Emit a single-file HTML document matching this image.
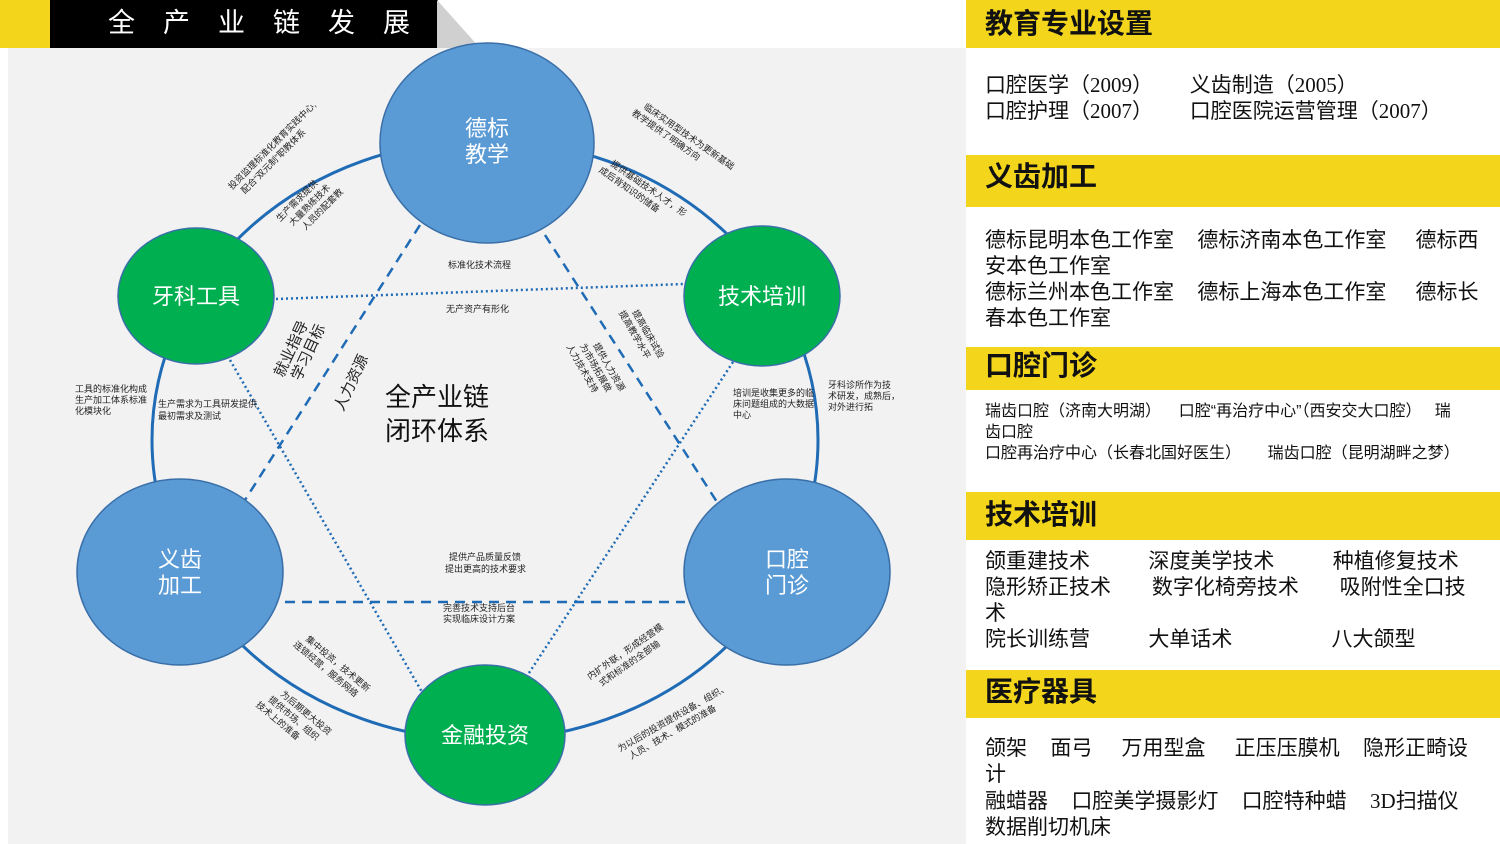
<!DOCTYPE html>
<html><head><meta charset="utf-8"><style>
body{margin:0;width:1500px;height:844px;background:#fff;position:relative;overflow:hidden;font-family:"Liberation Sans","Noto Sans CJK SC",sans-serif;}
.h{position:absolute;left:966px;width:534px;background:#f3d61c;font-weight:bold;font-size:28px;padding-left:19px;box-sizing:border-box;color:#111;}
.t{position:absolute;left:985px;font-size:21px;color:#111;line-height:26px;white-space:pre;}
.s{font-family:"Liberation Serif","Noto Sans CJK SC",serif;}
</style></head><body>
<div style="position:absolute;left:8px;top:48px;width:958px;height:796px;background:#f2f2f2"></div>
<div style="position:absolute;left:0;top:0;width:52px;height:48px;background:#f3d61c"></div>
<div style="position:absolute;left:50px;top:0;width:388px;height:48px;background:#000;color:#fff;font-size:27px;letter-spacing:28px;text-indent:58px;line-height:46px">全产业链发展</div>
<svg style="position:absolute;left:0;top:0" width="966" height="844">
<polygon points="437,0 437,48 480,48" fill="#d0d0d0"/>
<ellipse cx="485" cy="440" rx="333" ry="300" fill="none" stroke="#1f6bb5" stroke-width="3"/>
<g stroke="#1f6bb5" stroke-width="2.5" fill="none">
<line x1="420" y1="225" x2="245" y2="500" stroke-dasharray="10,7"/>
<line x1="545" y1="235" x2="717" y2="502" stroke-dasharray="10,7"/>
<line x1="285" y1="602" x2="685" y2="602" stroke-dasharray="10,7"/>
<line x1="276" y1="299" x2="684" y2="284" stroke-dasharray="2,3"/>
<line x1="230" y1="360" x2="422" y2="692" stroke-dasharray="2,3"/>
<line x1="733" y1="362" x2="527" y2="676" stroke-dasharray="2,3"/>
</g>
<g stroke="#3a6fa8" stroke-width="1.5">
<ellipse cx="487" cy="143" rx="107" ry="100" fill="#5b9bd5"/>
<ellipse cx="180" cy="572" rx="103" ry="93" fill="#5b9bd5"/>
<ellipse cx="787" cy="572" rx="103" ry="93" fill="#5b9bd5"/>
<ellipse cx="196" cy="296" rx="78" ry="68" fill="#00b050"/>
<ellipse cx="762" cy="296" rx="78" ry="70" fill="#00b050"/>
<ellipse cx="485" cy="735" rx="80" ry="70" fill="#00b050"/>
</g>
<g fill="#fff" font-size="22" text-anchor="middle">
<text x="487" y="136">德标</text><text x="487" y="162">教学</text>
<text x="180" y="567">义齿</text><text x="180" y="593">加工</text>
<text x="787" y="567">口腔</text><text x="787" y="593">门诊</text>
<text x="196" y="304">牙科工具</text><text x="762" y="304">技术培训</text><text x="485" y="743">金融投资</text>
</g>
<g font-size="26" fill="#111"><text x="385" y="406">全产业链</text><text x="385" y="440">闭环体系</text></g>
<g font-size="9" fill="#222">
<text x="448" y="268">标准化技术流程</text>
<text x="446" y="312">无产资产有形化</text>
<text x="449" y="560">提供产品质量反馈</text><text x="445" y="572">提出更高的技术要求</text>
<text x="443" y="611">完善技术支持后台</text><text x="443" y="622">实现临床设计方案</text>
<text x="75" y="392">工具的标准化构成</text><text x="75" y="403">生产加工体系标准</text><text x="75" y="414">化模块化</text>
<text x="158" y="407">生产需求为工具研发提供</text><text x="158" y="419">最初需求及测试</text>
<text x="733" y="396">培训是收集更多的临</text><text x="733" y="407">床问题组成的大数据</text><text x="733" y="418">中心</text>
<text x="828" y="388">牙科诊所作为技</text><text x="828" y="399">术研发，成熟后，</text><text x="828" y="410">对外进行拓</text>
<g transform="translate(232,190) rotate(-45)"><text x="0" y="0">投资监理标准化教育实践中心,</text><text x="6" y="12">配合“双元制”职教体系</text></g>
<g transform="translate(280,222) rotate(-45)"><text>生产需求提供</text><text x="6" y="12">大量熟练技术</text><text x="12" y="24">人员的配套教</text></g>
<g transform="translate(643,108) rotate(35)"><text>临床实用型技术为更新基础</text><text x="-6" y="12">教学提供了明确方向</text></g>
<g transform="translate(610,165) rotate(35)"><text>提供基础技术人才，形</text><text x="-6" y="12">成后背知识的储备</text></g>
<g transform="translate(632,312) rotate(60)"><text>提高临床试验</text><text x="-6" y="12">提高教学水平</text></g>
<g transform="translate(593,345) rotate(60)"><text>提供人力资源</text><text x="-6" y="12">为市场拓展做</text><text x="-12" y="24">人力技术支持</text></g>
<g transform="translate(305,640) rotate(40)"><text>集中投资，技术更新</text><text x="-6" y="12">连锁经营，服务网络</text></g>
<g transform="translate(280,695) rotate(40)"><text>为后期更大投资</text><text x="-6" y="12">提供市场、组织</text><text x="-12" y="24">技术上的准备</text></g>
<g transform="translate(590,680) rotate(-35)"><text>内扩外联，形成经营模</text><text x="6" y="12">式和标准的全部输</text></g>
<g transform="translate(620,752) rotate(-30)"><text>为以后的投资提供设备、组织、</text><text x="6" y="12">人员、技术、模式的准备</text></g>
</g>
<g font-size="15" fill="#222">
<g transform="translate(283,378) rotate(-65)"><text>就业指导</text><text x="4" y="17">学习目标</text></g>
<g transform="translate(343,412) rotate(-65)"><text>人力资源</text></g>
</g>
</svg>
<div class="h" style="top:0;height:48px;line-height:48px">教育专业设置</div>
<div class="t s" style="top:72px">口腔医学（2009）       义齿制造（2005）
口腔护理（2007）       口腔医院运营管理（2007）</div>
<div class="h" style="top:155px;height:52px;line-height:44px">义齿加工</div>
<div class="t" style="top:228px;word-spacing:0">德标昆明本色工作室    德标济南本色工作室     德标西
安本色工作室
德标兰州本色工作室    德标上海本色工作室     德标长
春本色工作室</div>
<div class="h" style="top:347px;height:43px;line-height:38px">口腔门诊</div>
<div class="t" style="top:401px;font-size:16px;line-height:21px">瑞齿口腔（济南大明湖）    口腔“再治疗中心”（西安交大口腔）   瑞
齿口腔
口腔再治疗中心（长春北国好医生）      瑞齿口腔（昆明湖畔之梦）</div>
<div class="h" style="top:492px;height:48px;line-height:46px">技术培训</div>
<div class="t" style="top:549px">颌重建技术          深度美学技术          种植修复技术
隐形矫正技术       数字化椅旁技术       吸附性全口技
术
院长训练营          大单话术                 八大颌型</div>
<div class="h" style="top:670px;height:48px;line-height:44px">医疗器具</div>
<div class="t" style="top:736px">颌架    面弓     万用型盒     正压压膜机    隐形正畸设
计
融蜡器    口腔美学摄影灯    口腔特种蜡    <span class="s">3D</span>扫描仪
数据削切机床</div>
</body></html>
